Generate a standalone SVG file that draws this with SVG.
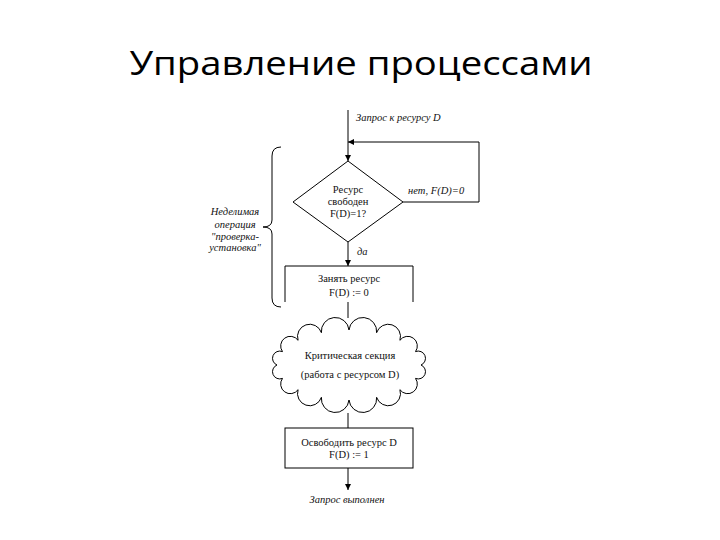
<svg xmlns="http://www.w3.org/2000/svg" width="720" height="540" viewBox="0 0 720 540">
<style>
.ln{fill:none;stroke:#000;stroke-width:1}
.t{font-family:"Liberation Serif","DejaVu Serif",serif;font-size:10.5px;fill:#111;text-anchor:middle}
.i{font-style:italic}
.title{font-family:"Open Sans","Noto Sans","Liberation Sans",sans-serif;font-size:33px;fill:#000;text-anchor:middle}
</style>
<defs>
<marker id="ah" viewBox="0 0 8 8" refX="8" refY="4" markerWidth="6" markerHeight="6" orient="auto" markerUnits="userSpaceOnUse">
<path d="M0,0 L8,4 L0,8 Z" fill="#000"/>
</marker>
</defs>
<rect width="720" height="540" fill="#fff"/>
<text class="title" x="361" y="75" textLength="463" lengthAdjust="spacingAndGlyphs">Управление процессами</text>

<g id="connectors">
<line class="ln" x1="348" y1="110" x2="348" y2="161" marker-end="url(#ah)"/>
<path class="ln" d="M403,202 H479 V142 H348" marker-end="url(#ah)"/>
<line class="ln" x1="348" y1="242" x2="348" y2="266" marker-end="url(#ah)"/>
<line class="ln" x1="348" y1="302" x2="348" y2="318"/>
<line class="ln" x1="348" y1="413" x2="348" y2="428"/>
<line class="ln" x1="348" y1="468" x2="348" y2="490" marker-end="url(#ah)"/>
</g>

<g id="label-request">
<text class="t i" x="356" y="121" style="text-anchor:start">Запрос к ресурсу D</text>
</g>

<g id="decision">
<polygon class="ln" points="348,161 403,202 348,242 293,202"/>
<text class="t" x="348" y="193">Ресурс</text>
<text class="t" x="348" y="205">свободен</text>
<text class="t" x="348" y="217">F(D)=1?</text>
</g>
<g id="label-no"><text class="t i" x="408" y="194" style="text-anchor:start">нет, F(D)=0</text></g>
<g id="label-yes"><text class="t i" x="357" y="255" style="text-anchor:start">да</text></g>

<g id="take">
<path class="ln" d="M285,302 V266 H413 V302"/>
<text class="t" x="349" y="282">Занять ресурс</text>
<text class="t" x="349" y="296">F(D) := 0</text>
</g>

<g id="brace">
<path class="ln" stroke-width="1.3" d="M281,147 Q272,147 272,156 V220 Q272,227 263,227 Q272,227 272,234 V298 Q272,307 281,307"/>
<text class="t i" x="235" y="215">Неделимая</text>
<text class="t i" x="235" y="228">операция</text>
<text class="t i" x="235" y="240">"проверка-</text>
<text class="t i" x="235" y="251">установка"</text>
</g>

<g id="critical">
<path class="ln" d="M421,365 A1,1 0 0 1 415.5,378.4 A1,1 0 0 1 399.9,389.7 A1,1 0 0 1 376.6,397.3 A1,1 0 0 1 349,400 A1,1 0 0 1 321.4,397.3 A1,1 0 0 1 298.1,389.7 A1,1 0 0 1 282.5,378.4 A1,1 0 0 1 277,365 A1,1 0 0 1 282.5,351.6 A1,1 0 0 1 298.1,340.3 A1,1 0 0 1 321.4,332.7 A1,1 0 0 1 349,330 A1,1 0 0 1 376.6,332.7 A1,1 0 0 1 399.9,340.3 A1,1 0 0 1 415.5,351.6 A1,1 0 0 1 421,365 Z"/>
<text class="t" x="350" y="359">Критическая секция</text>
<text class="t" x="350" y="378">(работа с ресурсом D)</text>
</g>

<g id="release">
<rect class="ln" x="285" y="428" width="128" height="40"/>
<text class="t" x="349" y="446">Освободить ресурс D</text>
<text class="t" x="349" y="458">F(D) := 1</text>
</g>

<g id="label-done">
<text class="t i" x="347" y="503">Запрос выполнен</text>
</g>
</svg>
